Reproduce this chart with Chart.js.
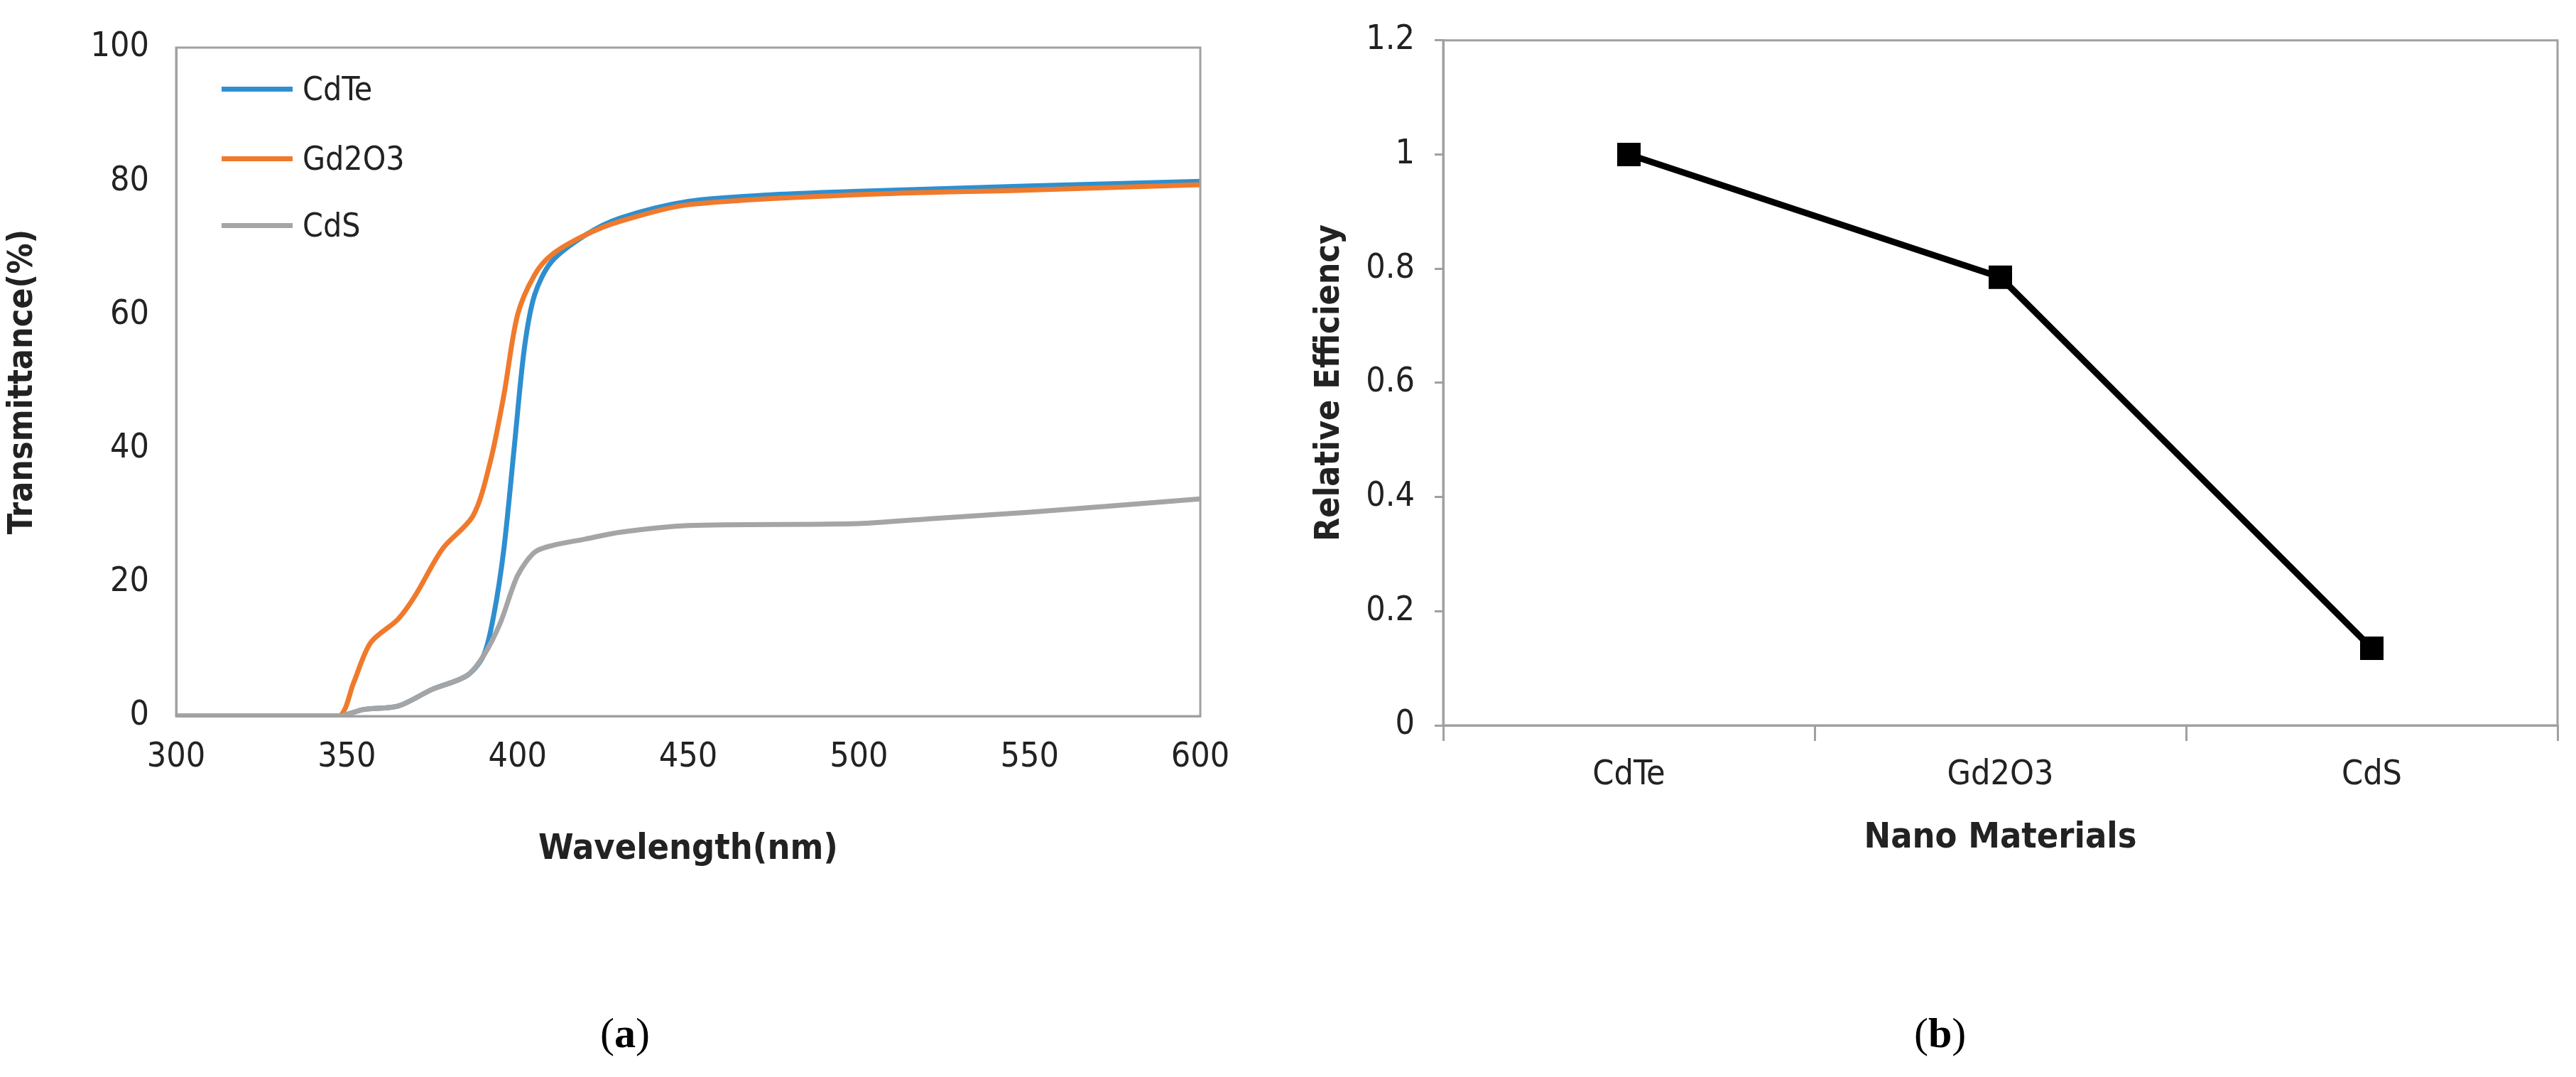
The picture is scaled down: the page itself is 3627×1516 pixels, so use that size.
<!DOCTYPE html>
<html><head><meta charset="utf-8">
<script src="https://cdn.jsdelivr.net/npm/chart.js@4"></script>
<style>
body{margin:0;background:#fff;width:3627px;height:1516px;position:relative;overflow:hidden;font-family:"DejaVu Sans Condensed","Liberation Sans Narrow",sans-serif}
.c{position:absolute}
.leg{position:absolute;left:312px;font-size:46px;color:#222;display:flex;align-items:center}
.leg span{display:inline-block;width:100px;height:7px;margin-right:14px}
.cap{position:absolute;top:1420px;font-family:"Liberation Serif",serif;font-size:60px;color:#000}
</style></head><body>
<div class="c" style="left:0;top:0;width:1760px;height:1230px"><canvas id="a"></canvas></div>
<div class="c" style="left:1840px;top:0;width:1787px;height:1230px"><canvas id="b"></canvas></div>
<div class="leg" style="top:98px"><span style="background:#2e8fd0"></span>CdTe</div>
<div class="leg" style="top:196px"><span style="background:#f07a2c"></span>Gd2O3</div>
<div class="leg" style="top:290px"><span style="background:#a5a5a5"></span>CdS</div>
<div class="cap" style="left:845px">(<b>a</b>)</div>
<div class="cap" style="left:2695px">(<b>b</b>)</div>
<script>
const wl_CdTe=[300,320,340,348,355,365,375,385,390,393,396,399,402,405,410,420,430,450,475,500,550,600];
const val_CdTe=[0,0,0,0,1,1.5,4,6,9,15,25,40,55,63,68,72,74.5,77,78,78.5,79.3,80];
const wl_Gd=[300,320,340,348,352,357,365,370,378,387,392,396,400,405,410,420,430,450,500,550,600];
const val_Gd=[0,0,0,0,5,11,14.5,18,25,30,38,48,60,66,69,72,74,76.5,78,78.7,79.5];
const wl_CdS=[300,320,340,348,355,365,375,385,390,395,400,405,410,420,430,450,500,520,550,600];
const val_CdS=[0,0,0,0,1,1.5,4,6,9,14,21,24.5,25.5,26.5,27.5,28.5,28.8,29.5,30.5,32.5];
const xTicks=[300,350,400,450,500,550,600];
const yTicksA=[0,20,40,60,80,100];
const materials=['CdTe','Gd2O3','CdS'];
const efficiency=[1.0,0.785,0.135];

const F='"DejaVu Sans Condensed","Liberation Sans Narrow",sans-serif';
const zip=(x,y)=>x.map((v,i)=>({x:v,y:y[i]}));
const ds=(x,y,c)=>({data:zip(x,y),borderColor:c,borderWidth:7,pointRadius:0,tension:0.3,fill:false});
new Chart(document.getElementById('a'),{type:'line',
data:{datasets:[ds(wl_CdS,val_CdS,'#a5a5a5'),ds(wl_Gd,val_Gd,'#f07a2c'),ds(wl_CdTe,val_CdTe,'#2e8fd0')]},
options:{responsive:true,maintainAspectRatio:false,animation:false,
layout:{padding:{top:67,right:70,left:0,bottom:0}},
plugins:{legend:{display:false},tooltip:{enabled:false}},
scales:{
x:{type:'linear',min:300,max:600,afterBuildTicks:s=>{s.ticks=xTicks.map(v=>({value:v}))},afterFit:s=>{s.height=222},
 grid:{display:false},border:{color:'#a0a0a0',width:3},
 ticks:{font:{family:F,size:48},color:'#222',padding:22},
 title:{display:true,text:'Wavelength(nm)',font:{family:F,size:50,weight:'bold'},color:'#222',padding:{top:4}}},
y:{min:0,max:100,afterBuildTicks:s=>{s.ticks=yTicksA.map(v=>({value:v}))},afterFit:s=>{s.width=248},
 grid:{display:false},border:{color:'#a0a0a0',width:3},
 ticks:{font:{family:F,size:48},color:'#222',padding:30},
 title:{display:true,text:'Transmittance(%)',font:{family:F,size:48,weight:'bold'},color:'#222'}}
}},
plugins:[{id:'box',afterDraw(c){const a=c.chartArea,x=c.ctx;x.save();x.strokeStyle='#a0a0a0';x.lineWidth=3;x.strokeRect(a.left,a.top,a.right-a.left,a.bottom-a.top);x.restore();}}]
});
new Chart(document.getElementById('b'),{type:'line',
data:{labels:materials,datasets:[{data:efficiency,borderColor:'#000',backgroundColor:'#000',borderWidth:9,pointStyle:'rect',pointRadius:17,tension:0}]},
options:{responsive:true,maintainAspectRatio:false,animation:false,
layout:{padding:{top:54,right:12,left:0,bottom:0}},
plugins:{legend:{display:false},tooltip:{enabled:false}},
scales:{
x:{offset:true,afterFit:s=>{s.height=209},
 grid:{offset:true,drawOnChartArea:false,drawTicks:true,tickLength:22,color:'#a0a0a0',lineWidth:3},border:{color:'#a0a0a0',width:3},
 ticks:{font:{family:F,size:48},color:'#222',padding:20},
 title:{display:true,text:'Nano Materials',font:{family:F,size:50,weight:'bold'},color:'#222',padding:{top:0,bottom:20}}},
y:{min:0,max:1.2,ticks:{stepSize:0.2,font:{family:F,size:48},color:'#222',padding:28,callback:v=>+v.toFixed(1)},afterFit:s=>{s.width=192},
 grid:{drawOnChartArea:false,tickLength:12,color:'#a0a0a0',lineWidth:3},border:{color:'#a0a0a0',width:3},
 title:{display:true,text:'Relative Efficiency',font:{family:F,size:48,weight:'bold'},color:'#222'}}
}},
plugins:[{id:'box',afterDraw(c){const a=c.chartArea,x=c.ctx;x.save();x.strokeStyle='#a0a0a0';x.lineWidth=3;x.strokeRect(a.left,a.top,a.right-a.left,a.bottom-a.top);x.restore();}}]
});
</script></body></html>
